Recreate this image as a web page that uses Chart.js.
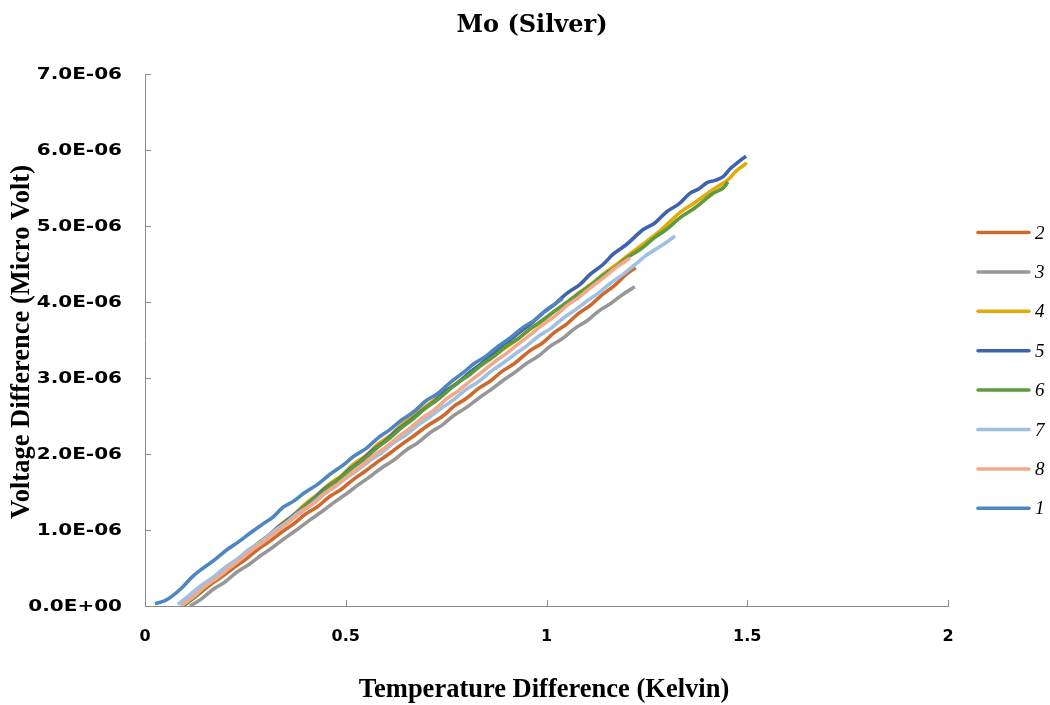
<!DOCTYPE html>
<html>
<head>
<meta charset="utf-8">
<script src="https://cdn.jsdelivr.net/npm/chart.js@4.4.1/dist/chart.umd.min.js"></script>
<style>
  html, body { margin: 0; padding: 0; background: #ffffff; }
  #wrap { width: 1050px; height: 705px; position: relative; }
</style>
</head>
<body>
<div id="wrap"><canvas id="c" width="1050" height="705"></canvas></div>
<script>
// Measured runs: [temperature difference (K), voltage difference (x1e-6 V)]
const run2 = [[0.095,0.00],[0.13,0.14],[0.16,0.27],[0.19,0.38],[0.22,0.50],[0.25,0.61],[0.28,0.74],[0.31,0.85],[0.34,0.97],[0.37,1.08],[0.40,1.21],[0.43,1.31],[0.46,1.44],[0.49,1.54],[0.52,1.67],[0.55,1.78],[0.58,1.90],[0.61,2.01],[0.64,2.13],[0.67,2.24],[0.70,2.36],[0.742,2.50],[0.77,2.63],[0.80,2.73],[0.83,2.86],[0.86,2.96],[0.89,3.09],[0.92,3.19],[0.959,3.36],[0.99,3.46],[1.02,3.60],[1.05,3.71],[1.08,3.85],[1.11,3.96],[1.14,4.10],[1.17,4.22],[1.20,4.37],[1.222,4.45]];
const run3 = [[0.112,0.00],[0.14,0.09],[0.17,0.22],[0.20,0.32],[0.23,0.45],[0.26,0.55],[0.29,0.67],[0.32,0.78],[0.35,0.90],[0.38,1.01],[0.41,1.13],[0.44,1.24],[0.47,1.36],[0.50,1.47],[0.53,1.59],[0.56,1.70],[0.59,1.82],[0.62,1.92],[0.65,2.05],[0.68,2.15],[0.71,2.28],[0.74,2.38],[0.77,2.51],[0.80,2.61],[0.83,2.73],[0.86,2.84],[0.89,2.96],[0.92,3.07],[0.95,3.19],[0.98,3.29],[1.01,3.42],[1.04,3.52],[1.07,3.65],[1.10,3.75],[1.13,3.88],[1.16,3.98],[1.19,4.10],[1.22,4.20]];
const run4 = [[0.095,0.02],[0.13,0.16],[0.16,0.30],[0.19,0.41],[0.22,0.56],[0.25,0.67],[0.28,0.82],[0.31,0.94],[0.34,1.08],[0.37,1.20],[0.403,1.36],[0.43,1.47],[0.46,1.61],[0.49,1.72],[0.52,1.87],[0.55,1.98],[0.58,2.13],[0.61,2.24],[0.64,2.39],[0.677,2.54],[0.71,2.67],[0.74,2.79],[0.77,2.91],[0.80,3.02],[0.83,3.14],[0.86,3.25],[0.89,3.37],[0.92,3.48],[0.959,3.64],[0.99,3.75],[1.02,3.88],[1.05,3.99],[1.08,4.12],[1.11,4.23],[1.14,4.36],[1.166,4.46],[1.20,4.60],[1.25,4.80],[1.29,4.97],[1.333,5.18],[1.37,5.31],[1.415,5.48],[1.45,5.60],[1.474,5.73],[1.499,5.83]];
const run5 = [[0.092,0.00],[0.12,0.12],[0.15,0.26],[0.18,0.37],[0.21,0.51],[0.24,0.63],[0.27,0.77],[0.30,0.89],[0.33,1.03],[0.36,1.15],[0.39,1.28],[0.42,1.41],[0.45,1.55],[0.48,1.66],[0.51,1.80],[0.54,1.92],[0.57,2.06],[0.60,2.18],[0.63,2.32],[0.66,2.44],[0.69,2.57],[0.72,2.69],[0.75,2.83],[0.78,2.94],[0.81,3.08],[0.84,3.20],[0.87,3.34],[0.90,3.46],[0.93,3.59],[0.96,3.71],[0.99,3.85],[1.02,3.97],[1.05,4.11],[1.083,4.23],[1.11,4.37],[1.14,4.49],[1.166,4.63],[1.20,4.76],[1.24,4.95],[1.27,5.04],[1.30,5.19],[1.33,5.29],[1.357,5.43],[1.38,5.49],[1.40,5.57],[1.42,5.60],[1.44,5.65],[1.457,5.75],[1.475,5.83],[1.497,5.92]];
const run6 = [[0.095,0.00],[0.13,0.15],[0.16,0.29],[0.19,0.41],[0.22,0.55],[0.25,0.67],[0.28,0.81],[0.31,0.93],[0.34,1.06],[0.37,1.18],[0.40,1.32],[0.43,1.44],[0.46,1.58],[0.49,1.70],[0.52,1.83],[0.55,1.95],[0.58,2.09],[0.61,2.21],[0.64,2.35],[0.67,2.47],[0.70,2.61],[0.73,2.72],[0.777,2.93],[0.81,3.05],[0.84,3.18],[0.87,3.29],[0.90,3.42],[0.93,3.52],[0.96,3.65],[0.99,3.76],[1.02,3.88],[1.05,3.99],[1.08,4.11],[1.11,4.22],[1.14,4.35],[1.17,4.45],[1.20,4.58],[1.233,4.69],[1.27,4.85],[1.30,4.96],[1.333,5.11],[1.37,5.24],[1.415,5.43],[1.44,5.50],[1.452,5.58]];
const run7 = [[0.082,0.02],[0.11,0.14],[0.14,0.27],[0.17,0.38],[0.20,0.51],[0.23,0.62],[0.26,0.75],[0.29,0.85],[0.32,0.98],[0.35,1.09],[0.38,1.22],[0.41,1.32],[0.44,1.45],[0.47,1.56],[0.50,1.68],[0.53,1.79],[0.56,1.91],[0.59,2.02],[0.62,2.15],[0.65,2.25],[0.68,2.38],[0.71,2.49],[0.74,2.61],[0.77,2.72],[0.80,2.85],[0.83,2.95],[0.86,3.08],[0.89,3.19],[0.92,3.31],[0.95,3.42],[0.98,3.55],[1.01,3.65],[1.04,3.78],[1.07,3.89],[1.10,4.01],[1.13,4.12],[1.16,4.25],[1.19,4.36],[1.22,4.49],[1.25,4.62],[1.28,4.72],[1.30,4.79],[1.32,4.87]];
const run8 = [[0.09,0.00],[0.12,0.12],[0.15,0.26],[0.18,0.37],[0.21,0.50],[0.24,0.62],[0.27,0.75],[0.30,0.86],[0.33,0.99],[0.36,1.11],[0.39,1.24],[0.42,1.35],[0.45,1.49],[0.48,1.60],[0.51,1.73],[0.54,1.85],[0.57,1.98],[0.60,2.09],[0.63,2.22],[0.66,2.34],[0.69,2.47],[0.72,2.58],[0.75,2.72],[0.78,2.83],[0.81,2.96],[0.84,3.08],[0.87,3.21],[0.90,3.32],[0.93,3.45],[0.96,3.57],[0.99,3.70],[1.02,3.81],[1.05,3.95],[1.08,4.06],[1.11,4.19],[1.14,4.31],[1.17,4.44],[1.208,4.58]];
const run1 = [[0.025,0.03],[0.05,0.07],[0.07,0.14],[0.092,0.24],[0.117,0.38],[0.145,0.50],[0.174,0.61],[0.204,0.74],[0.232,0.84],[0.262,0.96],[0.291,1.07],[0.319,1.17],[0.344,1.30],[0.37,1.38],[0.40,1.50],[0.43,1.60],[0.46,1.73],[0.49,1.84],[0.52,1.97],[0.55,2.07],[0.58,2.21],[0.61,2.32],[0.64,2.45],[0.67,2.56],[0.70,2.70],[0.73,2.80],[0.76,2.94],[0.79,3.06],[0.82,3.19],[0.85,3.29],[0.88,3.42],[0.91,3.53],[0.94,3.66],[0.97,3.76],[1.00,3.90],[1.02,3.97],[1.04,4.05]];

const seriesNames  = ['2', '3', '4', '5', '6', '7', '8', '1'];
const seriesRuns   = [run2, run3, run4, run5, run6, run7, run8, run1];
const seriesColors = ['#CC6A2E', '#979797', '#E2AA06', '#3E62AE', '#5F9A3F', '#9DC0E4', '#F2A88A', '#4E86C0'];

const xTickValues = [0, 0.5, 1, 1.5, 2];
const yTickValues = [0, 1, 2, 3, 4, 5, 6, 7];   // in units of 1e-6 V

const AXIS_GREY = '#8a8a8a';

// "4.0E-06" style labels for volt values
function sciLabel(v) {
  const s = (v * 1e-6).toExponential(1);
  const [mant, exp] = s.split('e');
  const n = parseInt(exp, 10);
  return mant + 'E' + (n < 0 ? '-' : '+') + String(Math.abs(n)).padStart(2, '0');
}

const decorations = {
  id: 'decorations',
  afterDraw(chart) {
    const ctx = chart.ctx;
    const area = chart.chartArea;
    const xs = chart.scales.x, ys = chart.scales.y;
    ctx.save();

    // inside tick marks
    ctx.strokeStyle = AXIS_GREY;
    ctx.lineWidth = 1;
    ctx.beginPath();
    yTickValues.forEach(v => {
      if (v === 0) return;
      const y = Math.round(ys.getPixelForValue(v)) + 0.5;
      ctx.moveTo(area.left, y); ctx.lineTo(area.left + 6, y);
    });
    xTickValues.forEach(v => {
      if (v === 0) return;
      const x = Math.round(xs.getPixelForValue(v)) + 0.5;
      ctx.moveTo(x, area.bottom); ctx.lineTo(x, area.bottom - 6);
    });
    ctx.stroke();

    // y tick labels: wide bold face, right-aligned against the axis
    ctx.fillStyle = '#000';
    ctx.textAlign = 'right';
    ctx.textBaseline = 'middle';
    ctx.font = 'bold 16px "DejaVu Sans"';
    yTickValues.forEach(v => {
      ctx.save();
      ctx.translate(area.left - 23, ys.getPixelForValue(v) + 1);
      ctx.scale(1.25, 1);
      ctx.fillText(sciLabel(v), 0, 0);
      ctx.restore();
    });

    // chart title
    ctx.textAlign = 'center';
    ctx.textBaseline = 'alphabetic';
    ctx.font = 'bold 24px "DejaVu Serif"';
    ctx.fillText('Mo (Silver)', 532, 32);

    // axis titles
    ctx.font = 'bold 26.5px "Liberation Serif"';
    ctx.fillText('Temperature Difference (Kelvin)', 544, 697);
    ctx.save();
    ctx.translate(29, 342);
    ctx.rotate(-Math.PI / 2);
    ctx.fillText('Voltage Difference (Micro Volt)', 0, 0);
    ctx.restore();

    // legend
    ctx.textAlign = 'left';
    ctx.textBaseline = 'middle';
    ctx.font = 'italic 19px "Liberation Serif"';
    ctx.lineCap = 'round';
    seriesNames.forEach((name, i) => {
      const y = 232.5 + i * 39.4;
      ctx.strokeStyle = seriesColors[i];
      ctx.lineWidth = 3.5;
      ctx.beginPath();
      ctx.moveTo(978, y); ctx.lineTo(1029, y);
      ctx.stroke();
      ctx.fillStyle = '#000';
      ctx.fillText(name, 1035, y + 1);
    });
    ctx.restore();
  }
};

new Chart(document.getElementById('c'), {
  type: 'line',
  data: {
    datasets: seriesRuns.map((run, i) => ({
      label: seriesNames[i],
      data: run.map(([t, v]) => ({ x: t, y: v })),
      borderColor: seriesColors[i],
      backgroundColor: seriesColors[i],
      borderWidth: 3.6,
      pointRadius: 0,
      tension: 0.35,
      fill: false,
      order: seriesRuns.length - i
    }))
  },
  options: {
    responsive: false,
    animation: false,
    devicePixelRatio: 1,
    layout: { padding: { top: 74, right: 102, left: 0, bottom: 0 } },
    plugins: { legend: { display: false }, tooltip: { enabled: false }, title: { display: false } },
    scales: {
      x: {
        type: 'linear',
        min: 0, max: 2,
        afterBuildTicks(s) { s.ticks = xTickValues.map(v => ({ value: v })); },
        afterFit(s) { s.height = 99; },
        ticks: { color: '#000', padding: 21, font: { family: '"DejaVu Sans"', weight: 'bold', size: 16 }, maxRotation: 0,
                 callback: v => String(v) },
        grid: { display: true, drawOnChartArea: false, drawTicks: false },
        border: { display: true, color: AXIS_GREY, width: 1 }
      },
      y: {
        type: 'linear',
        min: 0, max: 7,
        afterBuildTicks(s) { s.ticks = yTickValues.map(v => ({ value: v })); },
        afterFit(s) { s.width = 145; },
        ticks: { display: false },
        grid: { display: true, drawOnChartArea: false, drawTicks: false },
        border: { display: true, color: AXIS_GREY, width: 1 }
      }
    }
  },
  plugins: [decorations]
});
</script>
</body>
</html>
